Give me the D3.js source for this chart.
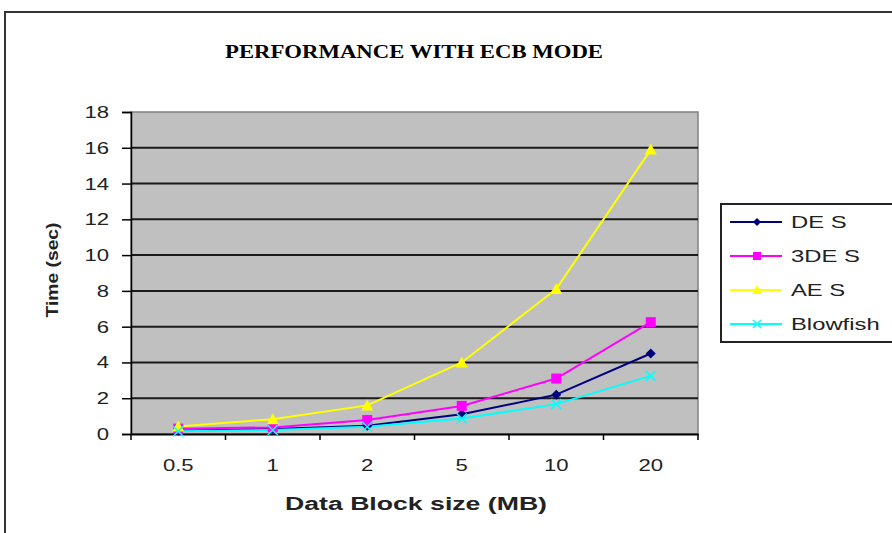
<!DOCTYPE html>
<html><head><meta charset="utf-8">
<script src="https://cdn.jsdelivr.net/npm/d3@7"></script>
<style>body{margin:0;background:#fff}svg{display:block}</style>
</head><body>
<svg id="c" width="892" height="533"></svg>
<script>
const categories = ["0.5","1","2","5","10","20"];
const desValues = [0.18,0.28,0.46,1.1,2.2,4.5];
const tdesValues = [0.3,0.37,0.78,1.57,3.1,6.25];
const aesValues = [0.42,0.83,1.6,4.0,8.1,15.9];
const blowfishValues = [0.15,0.22,0.4,0.87,1.67,3.25];
const seriesNames = ["DE S","3DE S","AE S","Blowfish"];
const yTicks = [0,2,4,6,8,10,12,14,16,18];

const series = [
  {name:seriesNames[0], values:desValues, color:"#000080", marker:"diamond"},
  {name:seriesNames[1], values:tdesValues, color:"#ff00ff", marker:"square"},
  {name:seriesNames[2], values:aesValues, color:"#ffff00", marker:"triangle"},
  {name:seriesNames[3], values:blowfishValues, color:"#00ffff", marker:"x"}
];

const SANS = "Liberation Sans, Arial, sans-serif";
function stretch(sel, f){
  sel.each(function(){
    const w = this.getComputedTextLength();
    d3.select(this).attr("textLength", w*f).attr("lengthAdjust","spacingAndGlyphs");
  });
}

const svg = d3.select("#c");
const L=131, R=698, T=112, B=434;

// outer frame
svg.append("path").attr("d","M5,533 L5,12 L892,12").attr("fill","none").attr("stroke","#333").attr("stroke-width",2);

svg.append("text").attr("x",414).attr("y",58).attr("text-anchor","middle")
  .attr("font-family","Liberation Serif, Times New Roman, serif").attr("font-weight","bold")
  .attr("font-size",19).attr("fill","#000").attr("textLength",378).attr("lengthAdjust","spacingAndGlyphs")
  .text("PERFORMANCE WITH ECB MODE");

const x = d3.scaleBand().domain(categories).range([L,R]).padding(0);
const y = d3.scaleLinear().domain([0,18]).range([B,T]);

svg.append("rect").attr("x",L).attr("y",T).attr("width",R-L).attr("height",B-T)
  .attr("fill","#c0c0c0").attr("stroke","#808080").attr("stroke-width",1.5);

// gridlines
svg.append("g").selectAll("line").data(yTicks.filter(d=>d>0 && d<18)).join("line")
  .attr("x1",L).attr("x2",R).attr("y1",d=>y(d)).attr("y2",d=>y(d))
  .attr("stroke","#1a1a1a").attr("stroke-width",2);

// y axis
const ya = svg.append("g").attr("transform",`translate(${L},0)`)
  .call(d3.axisLeft(y).tickValues(yTicks).tickSize(9).tickPadding(13));
ya.select(".domain").attr("stroke","#000").attr("stroke-width",1.5);
ya.selectAll(".tick line").attr("stroke","#000").attr("stroke-width",1.5);
ya.selectAll("text").attr("font-family",SANS).attr("font-size",17).attr("fill","#222");
stretch(ya.selectAll("text"),1.3);

// x axis
const xa = svg.append("g").attr("transform",`translate(0,${B})`)
  .call(d3.axisBottom(x).tickSize(0).tickPadding(25));
xa.select(".domain").attr("stroke","#000").attr("stroke-width",2);
xa.selectAll("text").attr("font-family",SANS).attr("font-size",17).attr("fill","#222");
stretch(xa.selectAll("text"),1.3);
// category boundary ticks
xa.append("g").selectAll("line").data(d3.range(categories.length+1)).join("line")
  .attr("x1",i=>L+i*x.step()).attr("x2",i=>L+i*x.step()).attr("y1",0).attr("y2",6)
  .attr("stroke","#000").attr("stroke-width",1.5);

svg.append("text").attr("transform",`translate(58,${(T+B)/2-3}) rotate(-90)`).attr("text-anchor","middle")
  .attr("font-family",SANS).attr("font-weight","bold").attr("font-size",17)
  .attr("fill","#222").attr("textLength",95).attr("lengthAdjust","spacingAndGlyphs").text("Time (sec)");
svg.append("text").attr("x",416).attr("y",510).attr("text-anchor","middle")
  .attr("font-family",SANS).attr("font-weight","bold").attr("font-size",18)
  .attr("fill","#222").attr("textLength",262).attr("lengthAdjust","spacingAndGlyphs").text("Data Block size (MB)");

function drawMarker(g, type, color, cx, cy, s){
  if(type==="diamond"){
    g.append("path").attr("d",`M${cx},${cy-s} L${cx+s},${cy} L${cx},${cy+s} L${cx-s},${cy} Z`).attr("fill",color);
  } else if(type==="square"){
    g.append("rect").attr("x",cx-s).attr("y",cy-s).attr("width",2*s).attr("height",2*s).attr("fill",color);
  } else if(type==="triangle"){
    g.append("path").attr("d",`M${cx},${cy-s-1} L${cx+s+1},${cy+s} L${cx-s-1},${cy+s} Z`).attr("fill",color);
  } else {
    g.append("path").attr("d",`M${cx-s},${cy-s} L${cx+s},${cy+s} M${cx-s},${cy+s} L${cx+s},${cy-s}`)
      .attr("stroke",color).attr("stroke-width",1.5);
  }
}

const line = d3.line().x((d,i)=>x(categories[i])+x.bandwidth()/2).y(d=>y(d));
series.forEach(s=>{
  svg.append("path").datum(s.values).attr("d",line).attr("fill","none").attr("stroke",s.color).attr("stroke-width",2);
});
series.forEach(s=>{
  const g = svg.append("g");
  s.values.forEach((v,i)=>drawMarker(g,s.marker,s.color,x(categories[i])+x.bandwidth()/2,y(v),5));
});

// legend
const lg = svg.append("g");
lg.append("rect").attr("x",721).attr("y",204).attr("width",175).attr("height",138)
  .attr("fill","#fff").attr("stroke","#222").attr("stroke-width",2);
series.forEach((s,i)=>{
  const ly = 222 + i*34;
  lg.append("line").attr("x1",730).attr("x2",782).attr("y1",ly).attr("y2",ly).attr("stroke",s.color).attr("stroke-width",2);
  drawMarker(lg,s.marker,s.color,757,ly,4);
  const t = lg.append("text").attr("x",791).attr("y",ly+6).attr("font-family",SANS)
    .attr("font-size",17).attr("fill","#222").text(s.name);
  stretch(t,1.4);
});
</script>
</body></html>
